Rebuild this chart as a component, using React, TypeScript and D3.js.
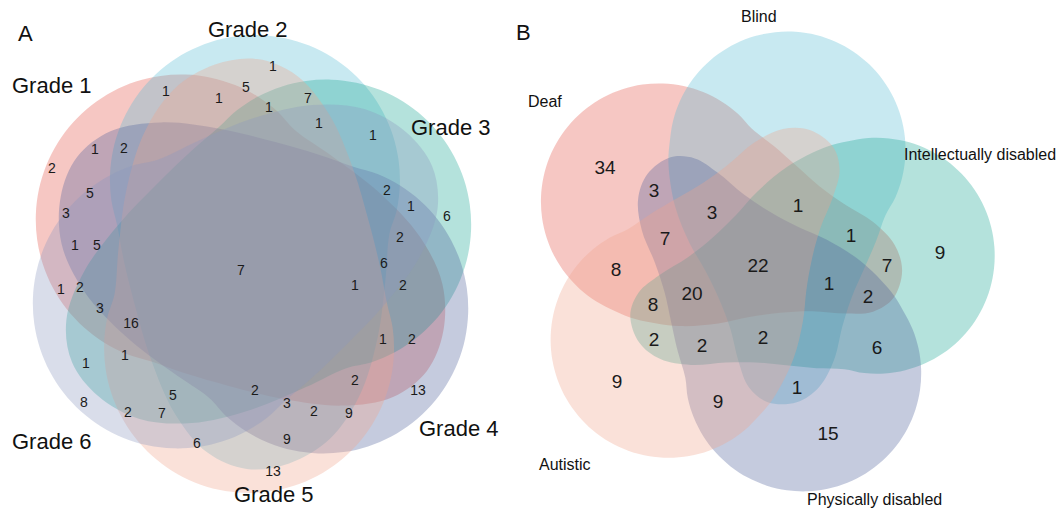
import React from "react";
import * as d3 from "d3";

// ---------- Panel A: six grades ----------
const gradeSets = ["Grade 1", "Grade 2", "Grade 3", "Grade 4", "Grade 5", "Grade 6"];
const gradeFills = ["#E4554A", "#58BCD5", "#1CA795", "#4F619B", "#F0A48C", "#8C98BF"];
const gradeRegionCounts = [
  1, 1, 5, 1, 7, 1, 1, 1, 1, 2, 2, 5, 3, 1, 5, 2, 1, 6, 2, 6, 7, 1,
  2, 1, 2, 3, 16, 1, 1, 1, 2, 5, 2, 2, 13, 8, 2, 7, 3, 2, 9, 6, 9, 13,
];
// label spot of each region, in diagram units measured from the centre
const gradeRegionSpots: [number, number][] = [
  [21, -198], [-86, -173], [-6, -177], [-33, -166], [56, -166], [17, -157],
  [67, -141], [121, -129], [-157, -115], [-128, -116], [-200, -96], [-162, -71],
  [-186, -51], [-177, -19], [-155, -19], [135, -74], [159, -58], [195, -48],
  [148, -27], [132, -1], [-11, 6], [103, 21], [151, 21], [-191, 25],
  [-172, 23], [-152, 44], [-121, 59], [-127, 91], [-166, 99], [131, 75],
  [160, 75], [-79, 131], [3, 126], [103, 116], [166, 126], [-168, 138],
  [-124, 148], [-90, 149], [35, 139], [62, 147], [97, 149], [-55, 179],
  [35, 175], [21, 207],
];

// ---------- Panel B: five disability groups ----------
const disabilitySets = ["Deaf", "Blind", "Intellectually disabled", "Physically disabled", "Autistic"];
const disabilityFills = ["#E4554A", "#58BCD5", "#1CA795", "#4F619B", "#F0A48C"];
const disabilityRegionCounts = [34, 3, 3, 7, 1, 1, 9, 8, 22, 20, 8, 7, 1, 2, 2, 2, 2, 6, 9, 1, 9, 15];
const disabilityRegionSpots: [number, number][] = [
  [-154, -97], [-105, -74], [-47, -52], [-94, -26], [39, -59], [92, -29],
  [181, -12], [-143, 5], [-1, 1], [-67, 29], [-106, 40], [128, 1],
  [70, 19], [109, 32], [-105, 75], [-57, 81], [4, 73], [118, 83],
  [-142, 117], [38, 123], [-41, 137], [69, 169],
];

const toRad = (deg: number) => (deg * Math.PI) / 180;

type Pt = [number, number];

// One set's outline with the set pointing up: an outer circular arc
// plus a broad foot that reaches across the centre of the diagram.
function template(cy: number, r: number, from: number, to: number, foot: Pt[]): Pt[] {
  const pts: Pt[] = [];
  for (let a = from; a <= to + 1e-6; a += 10) {
    pts.push([r * Math.cos(toRad(a)), cy + r * Math.sin(toRad(a))]);
  }
  return pts.concat(foot);
}

const quintupleOutline = template(-118, 118, 170, 385, [
  [108, -50], [103, -20], [98, 10], [96, 40], [96, 75], [88, 105], [70, 125],
  [42, 132], [20, 122], [4, 100], [-12, 70], [-30, 44], [-50, 20], [-72, -3],
  [-95, -35], [-112, -75],
]);

const sextupleOutline = template(-84, 145, 160, 380, [
  [134, 10], [128, 70], [112, 128], [84, 172], [44, 198], [2, 205],
  [-38, 190], [-72, 152], [-98, 98], [-116, 44], [-128, 2],
]);

function rotate(pts: Pt[], deg: number): Pt[] {
  const c = Math.cos(toRad(deg));
  const s = Math.sin(toRad(deg));
  return pts.map(([x, y]) => [x * c - y * s, x * s + y * c] as Pt);
}

type NameSpot = { x: number; y: number };

function VennPanel(props: {
  cx: number;
  cy: number;
  outline: Pt[];
  firstDir: number;
  fills: string[];
  counts: number[];
  spots: Pt[];
  countSize: number;
}) {
  const { cx, cy, outline, firstDir, fills, counts, spots, countSize } = props;
  const n = fills.length;
  const x = d3.scaleLinear().domain([-250, 250]).range([cx - 250, cx + 250]);
  const y = d3.scaleLinear().domain([-250, 250]).range([cy - 250, cy + 250]);
  const line = d3
    .line<Pt>()
    .x((d) => x(d[0]))
    .y((d) => y(d[1]))
    .curve(d3.curveCatmullRomClosed.alpha(0.5));
  const step = 360 / n;
  return (
    <g>
      {fills.map((fill, i) => {
        const dir = firstDir + step * i;
        return (
          <path
            key={i}
            d={line(rotate(outline, dir + 90)) || ""}
            fill={fill}
            fillOpacity={0.33}
            stroke="none"
          />
        );
      })}
      {counts.map((v, i) => (
        <text
          key={"c" + i}
          x={x(spots[i][0])}
          y={y(spots[i][1])}
          textAnchor="middle"
          dominantBaseline="central"
          fontSize={countSize}
          fill="#1a1a1a"
        >
          {v}
        </text>
      ))}
    </g>
  );
}

const gradeNameSpots: NameSpot[] = [
  { x: 12, y: 93 }, { x: 208, y: 37 }, { x: 411, y: 135 },
  { x: 419, y: 436 }, { x: 234, y: 502 }, { x: 12, y: 449 },
];
const disabilityNameSpots: NameSpot[] = [
  { x: 528, y: 107 }, { x: 741, y: 22 }, { x: 904, y: 160 },
  { x: 807, y: 505 }, { x: 539, y: 470 },
];

export default function App() {
  const font = "'Liberation Sans', Arial, Helvetica, sans-serif";
  return (
    <svg
      width={1060}
      height={511}
      viewBox="0 0 1060 511"
      style={{ position: "absolute", left: 0, top: 0, background: "#fff" }}
      fontFamily={font}
    >
      <rect width={1060} height={511} fill="#fff" />
      <VennPanel
        cx={252}
        cy={264}
        outline={sextupleOutline}
        firstDir={-148}
        fills={gradeFills}
        counts={gradeRegionCounts}
        spots={gradeRegionSpots}
        countSize={14}
      />
      <VennPanel
        cx={759}
        cy={264}
        outline={quintupleOutline}
        firstDir={-148}
        fills={disabilityFills}
        counts={disabilityRegionCounts}
        spots={disabilityRegionSpots}
        countSize={19}
      />
      {gradeSets.map((s, i) => (
        <text key={s} x={gradeNameSpots[i].x} y={gradeNameSpots[i].y} fontSize={22} fill="#111">
          {s}
        </text>
      ))}
      {disabilitySets.map((s, i) => (
        <text key={s} x={disabilityNameSpots[i].x} y={disabilityNameSpots[i].y} fontSize={16} fill="#111">
          {s}
        </text>
      ))}
      <text x={18} y={41} fontSize={22} fill="#111">A</text>
      <text x={516} y={40} fontSize={22} fill="#111">B</text>
    </svg>
  );
}
